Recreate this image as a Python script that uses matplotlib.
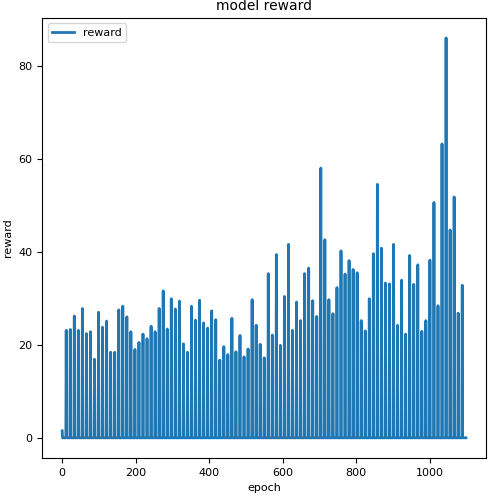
import numpy as np
import matplotlib.pyplot as plt

# reward at every 11th epoch, zero in between
spike_step = 11
n_epochs = 1100
spike_rewards = [
    1.5, 23.1, 23.3, 26.2, 23.1, 27.8, 22.4, 22.8, 16.9, 27.0, 23.8, 25.1, 18.4, 18.4,
    27.5, 28.3, 26.0, 22.8, 19.0, 20.5, 22.3, 21.3, 24.0, 22.8, 27.8, 31.6, 23.4, 29.9,
    27.7, 29.4, 20.2, 18.4, 28.3, 25.3, 29.6, 24.7, 23.6, 27.3, 25.4, 16.7, 19.6, 17.9,
    25.7, 18.5, 22.0, 17.4, 19.1, 29.7, 24.2, 20.1, 17.2,
    35.3, 22.1, 39.4, 19.9, 30.4, 41.6, 23.1, 29.2, 25.2, 35.3, 36.5, 29.5, 26.1, 58.0,
    42.6, 29.7, 26.7, 32.3, 40.2, 35.2, 38.1, 36.2, 35.5, 25.2, 23.0, 29.9, 39.6, 54.5,
    40.8, 33.3, 33.1, 41.6, 24.2, 33.9, 22.3, 39.2, 33.0, 37.2, 22.9, 25.2, 38.2, 50.6,
    28.4, 63.2, 86.0, 44.7, 51.8, 26.8, 32.8,
]

reward = np.zeros(n_epochs)
for i, v in enumerate(spike_rewards):
    reward[i * spike_step] = v
epoch = np.arange(n_epochs)

fig = plt.figure(figsize=(4.94, 4.96), dpi=100)
ax = fig.add_axes([0.085, 0.077, 0.899, 0.887])
ax.plot(epoch, reward, color='#1f77b4', linewidth=2, label='reward')
ax.set_title('model reward', fontsize=10)
ax.set_xlabel('epoch', fontsize=8)
ax.set_ylabel('reward', fontsize=8)
ax.tick_params(labelsize=8)
ax.legend(loc='upper left', fontsize=8)
fig.savefig('out.png', dpi=100)
